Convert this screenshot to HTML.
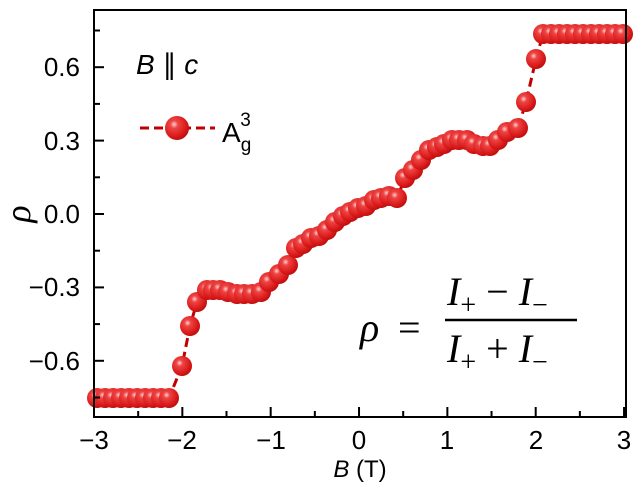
<!DOCTYPE html>
<html><head><meta charset="utf-8"><style>body{margin:0;background:#fff}svg{display:block}</style></head><body>
<svg id="s" width="641" height="488" xmlns="http://www.w3.org/2000/svg" font-family="Liberation Sans, sans-serif">
<defs><radialGradient id="g" cx="0.38" cy="0.35" r="0.65"><stop offset="0" stop-color="#ffd0d0"/><stop offset="0.25" stop-color="#ee4444"/><stop offset="0.8" stop-color="#d81818"/><stop offset="1" stop-color="#c01010"/></radialGradient></defs>
<g id="d"></g>
<rect x="94" y="10" width="532" height="407" fill="none" stroke="#000" stroke-width="2"/>
<g stroke="#000" stroke-width="2" id="t"></g>
<g font-size="26" text-anchor="middle">
<text x="94" y="449">−3</text><text x="182" y="449">−2</text><text x="271" y="449">−1</text><text x="359" y="449">0</text><text x="447" y="449">1</text><text x="536" y="449">2</text><text x="624" y="449">3</text></g>
<g font-size="26" text-anchor="end">
<text x="80" y="76">0.6</text><text x="80" y="150">0.3</text><text x="80" y="223">0.0</text><text x="80" y="296">−0.3</text><text x="80" y="370">−0.6</text></g>
<text x="360" y="477" font-size="24" text-anchor="middle"><tspan font-style="italic">B</tspan> (T)</text>
<text transform="translate(30,214) rotate(-90)" font-size="36" font-style="italic" font-family="Liberation Serif, serif" text-anchor="middle">ρ</text>
<text x="136" y="74" font-size="28"><tspan font-style="italic">B</tspan> ∥ <tspan font-style="italic">c</tspan></text>
<line x1="140" y1="128" x2="215" y2="128" stroke="#c00000" stroke-width="3" stroke-dasharray="9,5"/>
<circle cx="177" cy="128" r="12" fill="url(#g)"/>
<text x="222" y="142" font-size="28">A<tspan font-size="19" dy="9">g</tspan><tspan font-size="19" dx="-11" dy="-25">3</tspan></text>
<g font-family="Liberation Serif, serif" font-size="40">
<text x="360" y="341" font-style="italic">ρ</text><text x="398" y="341">=</text>
<text x="447" y="305"><tspan font-style="italic">I</tspan><tspan font-size="28" dy="9">+</tspan><tspan dy="-9"> − </tspan><tspan font-style="italic">I</tspan><tspan font-size="28" dy="9">−</tspan></text>
<line x1="445" y1="320" x2="577" y2="320" stroke="#000" stroke-width="2.5"/>
<text x="447" y="362"><tspan font-style="italic">I</tspan><tspan font-size="28" dy="9">+</tspan><tspan dy="-9"> + </tspan><tspan font-style="italic">I</tspan><tspan font-size="28" dy="9">−</tspan></text>
</g>
</svg>
<script>
var ns="http://www.w3.org/2000/svg",d=document.getElementById('d'),t=document.getElementById('t');
var p=[];for(var x=97;x<=175;x+=8)p.push([x,398]);
p=p.concat([[182,366],[190,326],[197,302],[207,290],[213,290],[220,290],[228,292],[237,294],[244,294],[252,294],[261,292],[269,282],[279,274],[288,265],[296,248],[303,244],[311,238],[319,236],[327,230],[335,222],[343,216],[350,212],[358,208],[366,206],[374,200],[381,198],[389,196],[397,198],[405,178],[413,170],[421,160],[429,150],[437,147],[444,144],[452,140],[459,140],[467,140],[474,144],[483,146],[490,146],[498,140],[507,132],[518,128],[526,102],[536,59]]);
for(x=543;x<=626;x+=8)p.push([x,34]);
var pl=document.createElementNS(ns,'polyline');pl.setAttribute('points',p.map(a=>a.join(',')).join(' '));pl.setAttribute('fill','none');pl.setAttribute('stroke','#c00000');pl.setAttribute('stroke-width','3');pl.setAttribute('stroke-dasharray','9,5');d.appendChild(pl);
p.forEach(a=>{var c=document.createElementNS(ns,'circle');c.setAttribute('cx',a[0]);c.setAttribute('cy',a[1]);c.setAttribute('r',10);c.setAttribute('fill','url(#g)');d.appendChild(c);});
for(var i=0;i<=12;i++){var X=94+i*44.17,l=document.createElementNS(ns,'line');l.setAttribute('x1',X);l.setAttribute('x2',X);l.setAttribute('y1',417);l.setAttribute('y2',i%2?411:407);t.appendChild(l);}
for(i=-5;i<=5;i++){var Y=214-i*36.7,l=document.createElementNS(ns,'line');l.setAttribute('x1',94);l.setAttribute('x2',i%2?100:104);l.setAttribute('y1',Y);l.setAttribute('y2',Y);t.appendChild(l);}
</script>
</body></html>
